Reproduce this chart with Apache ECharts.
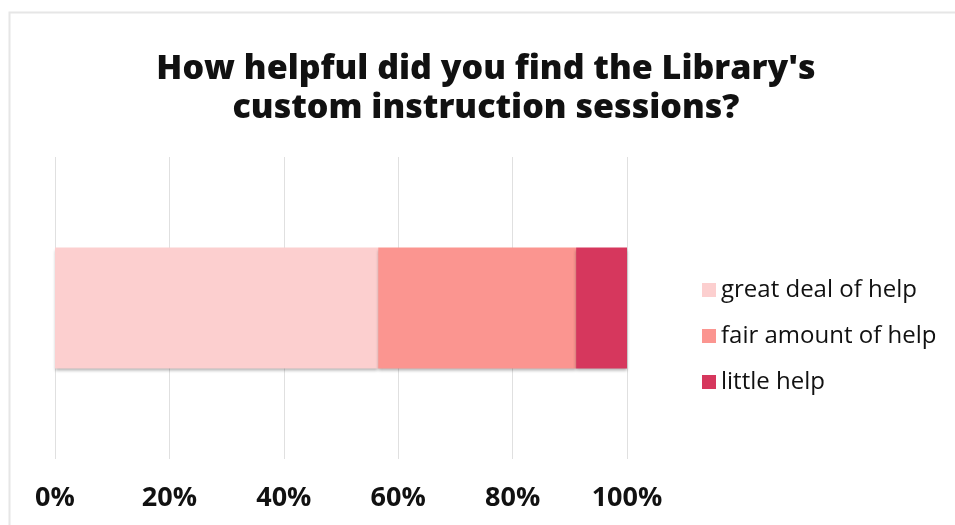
<!DOCTYPE html>
<html><head><meta charset="utf-8">
<script src="https://cdn.jsdelivr.net/npm/echarts@6/dist/echarts.min.js"></script>
<style>html,body{margin:0;padding:0;background:#fff}#c{width:955px;height:525px}</style>
</head><body><div id="c"></div>
<script>
var categories = ['Custom instruction sessions'];
var seriesNames = ['great deal of help', 'fair amount of help', 'little help'];
var greatDeal = [56.5];
var fairAmount = [34.6];
var littleHelp = [8.9];
var tickLabels = ['0%', '20%', '40%', '60%', '80%', '100%'];
var titleText = "How helpful did you find the Library's\ncustom instruction sessions?";
var colors = ['#fccfcf', '#fb9590', '#d6375d'];

var chart = echarts.init(document.getElementById('c'), null, {renderer: 'canvas'});
var values = [greatDeal, fairAmount, littleHelp];
var series = seriesNames.map(function (n, i) {
  return {
    name: n, type: 'bar', stack: 'total', data: values[i], barWidth: 121,
    itemStyle: {color: colors[i], shadowColor: 'rgba(0,0,0,0.3)', shadowBlur: 3, shadowOffsetY: 2}
  };
});
chart.setOption({
  animation: false,
  backgroundColor: '#fff',
  graphic: [
    {type: 'rect', left: 7, top: 10, shape: {width: 960, height: 530},
      style: {fill: 'none', stroke: '#e6e6e6', lineWidth: 2}, silent: true, z: -1},
    {type: 'text', x: 486, y: 50, silent: true,
      style: {text: titleText, align: 'center', verticalAlign: 'top', fill: '#111',
        fontFamily: 'Open Sans', fontWeight: 800, fontSize: 34, lineHeight: 39}}
  ],
  legend: {
    orient: 'vertical', left: 697, top: 273, itemWidth: 14, itemHeight: 14, itemGap: 22,
    icon: 'rect',
    textStyle: {fontFamily: 'Open Sans', fontSize: 24, color: '#111'},
    data: seriesNames
  },
  grid: {left: 55, right: 328, top: 157, bottom: 66, containLabel: false},
  xAxis: {
    type: 'value', min: 0, max: 100, interval: 20,
    axisLine: {show: false}, axisTick: {show: false},
    splitLine: {lineStyle: {color: '#e0e0e0', width: 1}},
    axisLabel: {
      margin: 26, fontFamily: 'Open Sans', fontWeight: 'bold', fontSize: 27, color: '#111',
      formatter: function (v) { return tickLabels[Math.round(v / 20)]; }
    }
  },
  yAxis: {type: 'category', data: categories, show: false},
  series: series
});
</script></body></html>
